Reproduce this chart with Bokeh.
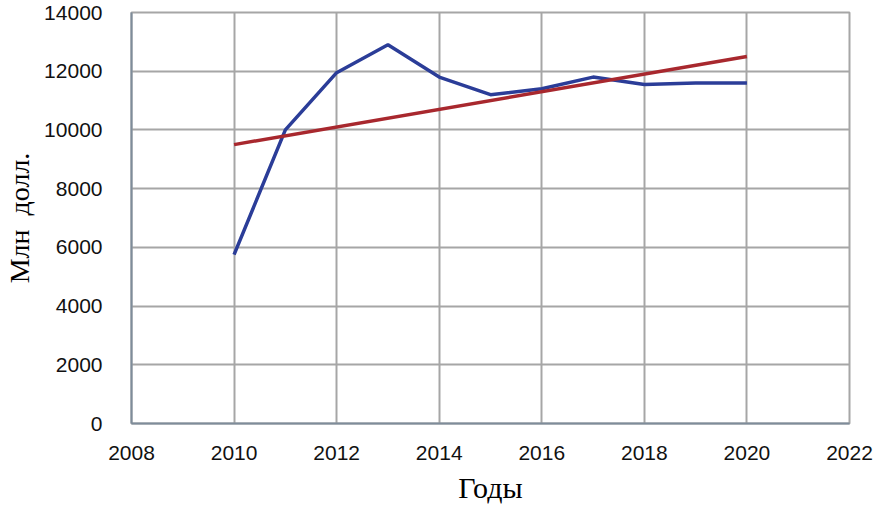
from bokeh.plotting import figure
from bokeh.models import FixedTicker, Range1d
from bokeh.embed import file_html
from bokeh.resources import INLINE

# Data
years = [2010, 2011, 2012, 2013, 2014, 2015, 2016, 2017, 2018, 2019, 2020]
values = [5750, 10000, 11950, 12900, 11800, 11200, 11400, 11800, 11550, 11600, 11600]
trend_years = [2010, 2020]
trend_values = [9500, 12500]

x_ticks = [2008, 2010, 2012, 2014, 2016, 2018, 2020, 2022]
y_ticks = [0, 2000, 4000, 6000, 8000, 10000, 12000, 14000]

p = figure(width=886, height=510, output_backend="svg", toolbar_location=None,
           x_range=Range1d(2008, 2022), y_range=Range1d(0, 14000),
           min_border_left=131, min_border_right=37, min_border_top=12, min_border_bottom=87)

p.line(years, values, line_color="#2b3d98", line_width=3.5)
p.line(trend_years, trend_values, line_color="#a8282e", line_width=3.5)

p.xaxis.ticker = FixedTicker(ticks=x_ticks)
p.yaxis.ticker = FixedTicker(ticks=y_ticks)
p.xgrid.ticker = FixedTicker(ticks=x_ticks)
p.ygrid.ticker = FixedTicker(ticks=y_ticks)

for g in (p.xgrid, p.ygrid):
    g.grid_line_color = "#a6a6a6"
    g.grid_line_width = 2
    g.grid_line_alpha = 1

p.outline_line_color = "#a6a6a6"
p.outline_line_width = 2

for ax in (p.xaxis, p.yaxis):
    ax.axis_line_color = "#7e8c9a"
    ax.axis_line_width = 2
    ax.major_tick_line_color = None
    ax.minor_tick_line_color = None
    ax.major_label_text_font = "Liberation Sans"
    ax.major_label_text_font_size = "21px"
    ax.major_label_text_color = "#111111"
    ax.axis_label_text_font = "Liberation Serif"
    ax.axis_label_text_font_style = "normal"
    ax.axis_label_text_color = "#000000"

p.yaxis.major_label_standoff = 23
p.xaxis.major_label_standoff = 16
p.xaxis.axis_label = "Годы"
p.yaxis.axis_label = "Млн\u00a0 долл."
p.xaxis.axis_label_text_font_size = "30px"
p.yaxis.axis_label_text_font_size = "28px"
p.xaxis.axis_label_standoff = 8
p.yaxis.axis_label_standoff = 6

open("out.html", "w").write(file_html(p, INLINE))
